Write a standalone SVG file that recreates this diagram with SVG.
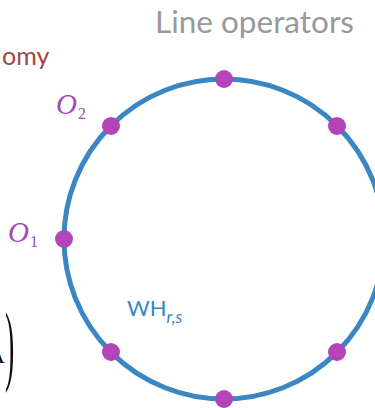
<svg xmlns="http://www.w3.org/2000/svg" width="375" height="408" viewBox="0 0 375 408">
<style>
.dot{fill:#b345b8}
.op{font-family:"Liberation Serif",serif;font-style:italic;fill:#a648b5}
.sub{font-family:"Liberation Serif",serif;fill:#a648b5}
</style>
<rect width="375" height="408" fill="#fff"/>
<text x="155" y="33" font-family="Lato, sans-serif" font-size="31.5" fill="#999999">Line operators</text>
<text x="2" y="65" font-family="Lato, sans-serif" font-size="25" fill="#a54443">omy</text>
<g id="connectors">
<circle cx="224" cy="239" r="160" fill="none" stroke="#3a87c4" stroke-width="5"/>
</g>
<g id="nodes">
<circle id="n-top" class="dot" cx="224" cy="79" r="9"/>
<circle id="n-tl" class="dot" cx="111" cy="126" r="9"/>
<circle id="n-tr" class="dot" cx="337" cy="126" r="9"/>
<circle id="n-left" class="dot" cx="64" cy="239" r="9"/>
<circle id="n-right" class="dot" cx="384" cy="239" r="9"/>
<circle id="n-bl" class="dot" cx="111" cy="352" r="9"/>
<circle id="n-br" class="dot" cx="337" cy="352" r="9"/>
<circle id="n-bottom" class="dot" cx="224" cy="399" r="9"/>
</g>
<g id="labels">
<text class="op" x="56" y="114" font-size="29">O</text>
<text class="sub" x="78" y="119" font-size="16">2</text>
<text class="op" x="8" y="242" font-size="29">O</text>
<text class="sub" x="30" y="247" font-size="16">1</text>
<text x="127" y="316" font-family="Lato, sans-serif" font-size="22" fill="#3a87c4">WH<tspan font-size="17" font-style="italic" dy="7">r,s</tspan></text>
<text x="5" y="363" text-anchor="end" font-family="Liberation Serif, serif" font-size="24" fill="#111">Á</text>
<text transform="translate(5,374) scale(1,3.2)" font-family="Liberation Serif, serif" font-size="28" fill="#111">)</text>
</g>
</svg>
